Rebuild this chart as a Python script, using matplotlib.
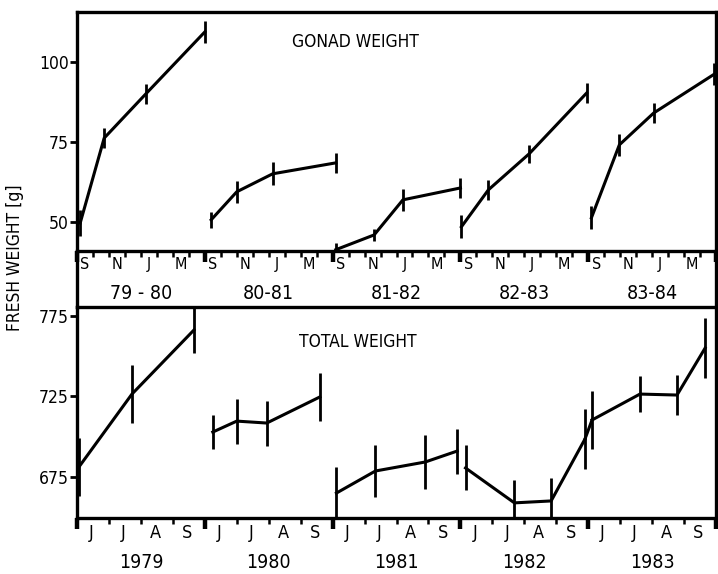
import numpy as np
import matplotlib as mpl
mpl.use('Agg')
import matplotlib.pyplot as plt
from matplotlib.lines import Line2D

plt.rcParams['font.family'] = ['DejaVu Sans']
plt.rcParams['font.stretch'] = 'condensed'

# gonad weight: position = months since 1 Sept of each season
seasons = ['79-80', '80-81', '81-82', '82-83', '83-84']
season_months = ['S', 'N', 'J', 'M']
gonad_x = [[0.2, 1.7, 4.3, 8.0],
           [0.4, 2.0, 4.25, 8.2],
           [0.2, 2.6, 4.4, 8.0],
           [0.06, 1.75, 4.3, 7.9],
           [0.2, 1.95, 4.1, 7.9]]
gonad_y = [[49.8, 76.2, 89.9, 109.2],
           [50.8, 59.5, 65.1, 68.5],
           [41.5, 46.1, 57.0, 60.7],
           [48.6, 60.1, 71.3, 90.2],
           [51.4, 74.1, 84.0, 96.1]]
gonad_err = [[4.0, 3.0, 3.0, 3.4],
             [2.5, 3.4, 3.6, 3.0],
             [2.0, 1.8, 3.4, 3.0],
             [3.6, 3.0, 2.9, 3.0],
             [3.6, 3.4, 3.0, 3.4]]

# total weight: position = months since 1 June of each year
years = ['1979', '1980', '1981', '1982', '1983']
year_months = ['J', 'J', 'A', 'S']
total_x = [[0.06, 1.72, 3.66],
           [0.25, 1.0, 1.94, 3.6],
           [0.12, 1.34, 2.9, 3.9],
           [0.16, 1.69, 2.84, 3.9],
           [0.12, 1.62, 2.78, 3.66]]
total_y = [[681.1, 726.4, 766.2],
           [702.8, 709.6, 708.4, 724.6],
           [664.9, 678.6, 684.2, 691.0],
           [680.5, 658.8, 660.0, 698.5],
           [710.3, 726.4, 725.8, 755.0]]
total_err = [[18, 18, 14],
             [10.6, 14, 14, 15],
             [16, 16, 17, 14],
             [14, 14, 14, 18.6],
             [18, 11, 12.7, 18.6]]

W, H = 718, 574
fig = plt.figure(figsize=(W / 100, H / 100), dpi=100)
L, R = 77 / W, 716 / W
ax1 = fig.add_axes([L, 1 - 251 / H, R - L, (251 - 12) / H])
ax2 = fig.add_axes([L, 1 - 518 / H, R - L, (518 - 307) / H])

LW = 2.2
SPW = 2.4

def style(ax):
    for s in ax.spines.values():
        s.set_linewidth(SPW)
    ax.tick_params(axis='y', direction='out', length=5, width=2, labelsize=12.5, pad=1)
    ax.tick_params(axis='x', which='minor', direction='out', length=4, width=1.8)
    ax.tick_params(axis='x', which='major', direction='out', length=8, width=3.2,
                   labelbottom=False)

# ---- gonad weight
for i in range(len(seasons)):
    xs = np.array(gonad_x[i]) + 8 * i
    ax1.errorbar(xs, gonad_y[i], yerr=gonad_err[i], color='black', lw=LW,
                 elinewidth=2, capsize=0)
ax1.set_xlim(0, 8 * len(seasons))
ax1.set_ylim(41.1, 115.4)
ax1.set_yticks([50, 75, 100])
ax1.set_xticks(np.arange(0, 8 * len(seasons) + 1, 8))
ax1.set_xticks(np.arange(0, 8 * len(seasons) + 1, 1), minor=True)
style(ax1)
tr = ax1.get_xaxis_transform()
for i, s in enumerate(seasons):
    for k, m in enumerate(season_months):
        ax1.text(8 * i + 0.5 + 2 * k, -0.058, m, transform=tr, ha='center',
                 va='center', fontsize=11.5)
    ax1.text(8 * i + 4, -0.176, s.replace('-', ' - ') if i == 0 else s,
             transform=tr, ha='center', va='center', fontsize=14)
ax1.text(0.435, 0.874, 'GONAD WEIGHT', transform=ax1.transAxes, ha='center',
         va='center', fontsize=12.5)

# ---- total weight
for i in range(len(years)):
    xs = np.array(total_x[i]) + 4 * i
    ax2.errorbar(xs, total_y[i], yerr=total_err[i], color='black', lw=LW,
                 elinewidth=2, capsize=0)
# 1982 and 1983 series are joined
ax2.plot([total_x[3][-1] + 12, total_x[4][0] + 16], [total_y[3][-1], total_y[4][0]],
         color='black', lw=LW)
ax2.set_xlim(0, 4 * len(years))
ax2.set_ylim(649.4, 780.5)
ax2.set_yticks([675, 725, 775])
ax2.set_xticks(np.arange(0, 4 * len(years) + 1, 4))
ax2.set_xticks(np.arange(0, 4 * len(years) + 1, 1), minor=True)
style(ax2)
tr = ax2.get_xaxis_transform()
for i, y in enumerate(years):
    for k, m in enumerate(year_months):
        ax2.text(4 * i + 0.45 + k, -0.071, m, transform=tr, ha='center',
                 va='center', fontsize=13)
    ax2.text(4 * i + 2, -0.209, y, transform=tr, ha='center', va='center', fontsize=14)
ax2.text(0.44, 0.834, 'TOTAL WEIGHT', transform=ax2.transAxes, ha='center',
         va='center', fontsize=12.5)

# frame sides between the two panels
for xf in (L, R):
    fig.add_artist(Line2D([xf, xf], [1 - 307 / H, 1 - 251 / H], color='black',
                          lw=SPW, transform=fig.transFigure))

fig.text(0.021, 1 - 258 / H, 'FRESH WEIGHT [g]', rotation=90, ha='center',
         va='center', fontsize=12.5)

fig.savefig('out.png', dpi=100)
